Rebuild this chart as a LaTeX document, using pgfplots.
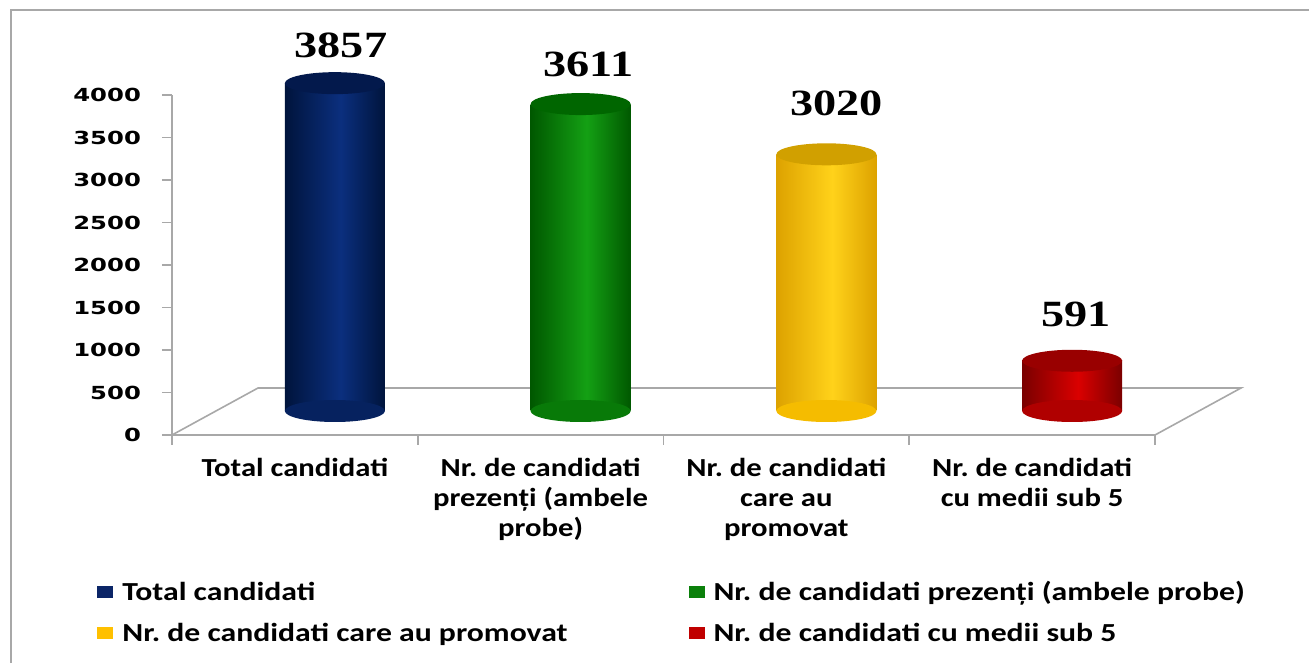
\documentclass[border=0pt]{standalone}
\usepackage{fontspec}
\usepackage{pgfplots}
\pgfplotsset{compat=1.18}
\newfontfamily\catfam[FakeStretch=1.18]{Carlito}
\newfontfamily\legfam[FakeStretch=1.22]{Carlito}
\newfontfamily\valfam[FakeStretch=1.25]{Liberation Serif}
\newfontfamily\tickfam[FakeStretch=1.35]{DejaVu Sans}
\newcommand\catfont{\frenchspacing\catfam\bfseries\fontsize{13pt}{15pt}\selectfont}
\newcommand\legfont{\frenchspacing\legfam\bfseries\fontsize{13pt}{15pt}\selectfont}
\newcommand\valfont{\valfam\bfseries\fontsize{18.5pt}{20pt}\selectfont}
\newcommand\tickfont{\tickfam\bfseries\fontsize{9pt}{10pt}\selectfont}
\newcommand\legsq[1]{\pgfsetfillcolor{#1}\pgfpathrectangle{\pgfpoint{-20pt}{-11pt}}{\pgfpoint{8pt}{6pt}}\pgfusepath{fill}}

\definecolor{bD}{HTML}{00143C}
\definecolor{bL}{HTML}{0B2F7E}
\definecolor{bM}{HTML}{06225F}
\definecolor{bCap}{HTML}{03194C}
\definecolor{bLeg}{HTML}{0B2567}
\definecolor{gD}{HTML}{005800}
\definecolor{gL}{HTML}{14A014}
\definecolor{gM}{HTML}{087A08}
\definecolor{gCap}{HTML}{006600}
\definecolor{gLeg}{HTML}{0B800B}
\definecolor{yD}{HTML}{DDA200}
\definecolor{yL}{HTML}{FFD21A}
\definecolor{yM}{HTML}{F5BC00}
\definecolor{yCap}{HTML}{D1A000}
\definecolor{yLeg}{HTML}{FFC000}
\definecolor{rD}{HTML}{7A0000}
\definecolor{rL}{HTML}{DA0000}
\definecolor{rM}{HTML}{B00000}
\definecolor{rCap}{HTML}{990000}
\definecolor{rLeg}{HTML}{C00000}
\definecolor{axgray}{HTML}{A8A8A8}

\pgfdeclarehorizontalshading{blueshade}{100bp}{color(0bp)=(bD); color(25bp)=(bD); color(53bp)=(bL); color(75bp)=(bD); color(100bp)=(bD)}
\pgfdeclarehorizontalshading{greenshade}{100bp}{color(0bp)=(gD); color(25bp)=(gD); color(53bp)=(gL); color(75bp)=(gD); color(100bp)=(gD)}
\pgfdeclarehorizontalshading{yellowshade}{100bp}{color(0bp)=(yD); color(25bp)=(yD); color(53bp)=(yL); color(75bp)=(yD); color(100bp)=(yD)}
\pgfdeclarehorizontalshading{redshade}{100bp}{color(0bp)=(rD); color(25bp)=(rD); color(53bp)=(rL); color(75bp)=(rD); color(100bp)=(rD)}

\pgfdeclareplotmark{cap}{\pgfpathellipse{\pgfpointorigin}{\pgfqpoint{25pt}{0pt}}{\pgfqpoint{0pt}{5.5pt}}\pgfusepathqfill}

\begin{document}
\begin{tikzpicture}
\useasboundingbox (0,0) rectangle (654.5pt,331.5pt);
\draw[axgray, line width=1pt] (5.5pt,0pt) -- (5.5pt,326.5pt) -- (654.5pt,326.5pt);
\begin{axis}[
  at={(86pt,114pt)}, anchor=south west,
  scale only axis, width=491.5pt, height=170pt,
  xmin=-0.5, xmax=3.5, ymin=0, ymax=4000,
  axis lines*=left,
  axis line style={draw=axgray, line width=0.8pt},
  tick align=outside,
  ytick={0,500,...,4000},
  xtick={0,1,2,3},
  xticklabels={Total candidati, {Nr. de candidati\\prezenți (ambele\\probe)}, {Nr. de candidati\\care au\\promovat}, {Nr. de candidati\\cu medii sub 5}},
  minor xtick={-0.5,0.5,1.5,2.5,3.5},
  major tick length=5pt, minor tick length=5pt,
  tick style={draw=axgray, line width=0.8pt},
  major x tick style={draw=none},
  /pgf/number format/1000 sep={},
  /pgf/number format/assume math mode=true,
  yticklabel style={font=\tickfont, xshift=-7pt},
  xticklabel style={font=\catfont, align=center, yshift=-3pt},
  clip=false,
  legend columns=2,
  legend style={at={(-0.0763,-0.428)}, anchor=north west, draw=none, fill=none, font=\legfont, row sep=10pt, inner sep=0pt,
    cells={anchor=base west}, nodes={inner xsep=4.5pt, inner ysep=0pt},
    /tikz/every even column/.append style={column sep=56pt}},
]
% floor
\addplot[forget plot, axgray, line width=0.8pt, mark=none] coordinates {(-0.5,0) (-0.15,553) (3.85,553) (3.5,0)};
% blue
\addplot[forget plot, only marks, mark=cap, mark options={draw=none, fill=bM}, xshift=20pt, yshift=12pt] coordinates {(0,0)};
\addplot[ybar, bar width=50pt, bar shift=0pt, draw=none, shade, shading=blueshade, xshift=20pt, yshift=12pt,
  legend image code/.code={\legsq{bLeg}}] coordinates {(0,3857)};
\addlegendentry{Total candidati}
\addplot[forget plot, only marks, mark=cap, mark options={draw=none, fill=bCap}, xshift=20pt, yshift=12pt,
  nodes near coords, nodes near coords style={font=\valfont, anchor=base, yshift=13pt, xshift=3pt, text=black}] coordinates {(0,3857)};
% green
\addplot[forget plot, only marks, mark=cap, mark options={draw=none, fill=gM}, xshift=20pt, yshift=12pt] coordinates {(1,0)};
\addplot[ybar, bar width=50pt, bar shift=0pt, draw=none, shade, shading=greenshade, xshift=20pt, yshift=12pt,
  legend image code/.code={\legsq{gLeg}}] coordinates {(1,3611)};
\addlegendentry{Nr. de candidati prezenți (ambele probe)}
\addplot[forget plot, only marks, mark=cap, mark options={draw=none, fill=gCap}, xshift=20pt, yshift=12pt,
  nodes near coords, nodes near coords style={font=\valfont, anchor=base, yshift=14pt, xshift=4pt, text=black}] coordinates {(1,3611)};
% yellow
\addplot[forget plot, only marks, mark=cap, mark options={draw=none, fill=yM}, xshift=20pt, yshift=12pt] coordinates {(2,0)};
\addplot[ybar, bar width=50pt, bar shift=0pt, draw=none, shade, shading=yellowshade, xshift=20pt, yshift=12pt,
  legend image code/.code={\legsq{yLeg}}] coordinates {(2,3020)};
\addlegendentry{Nr. de candidati care au promovat}
\addplot[forget plot, only marks, mark=cap, mark options={draw=none, fill=yCap}, xshift=20pt, yshift=12pt,
  nodes near coords, nodes near coords style={font=\valfont, anchor=base, yshift=19.5pt, xshift=5pt, text=black}] coordinates {(2,3020)};
% red
\addplot[forget plot, only marks, mark=cap, mark options={draw=none, fill=rM}, xshift=20pt, yshift=12pt] coordinates {(3,0)};
\addplot[ybar, bar width=50pt, bar shift=0pt, draw=none, shade, shading=redshade, xshift=20pt, yshift=12pt,
  legend image code/.code={\legsq{rLeg}}] coordinates {(3,591)};
\addlegendentry{Nr. de candidati cu medii sub 5}
\addplot[forget plot, only marks, mark=cap, mark options={draw=none, fill=rCap}, xshift=20pt, yshift=12pt,
  nodes near coords, nodes near coords style={font=\valfont, anchor=base, yshift=17pt, xshift=2pt, text=black}] coordinates {(3,591)};
\end{axis}
\end{tikzpicture}
\end{document}
